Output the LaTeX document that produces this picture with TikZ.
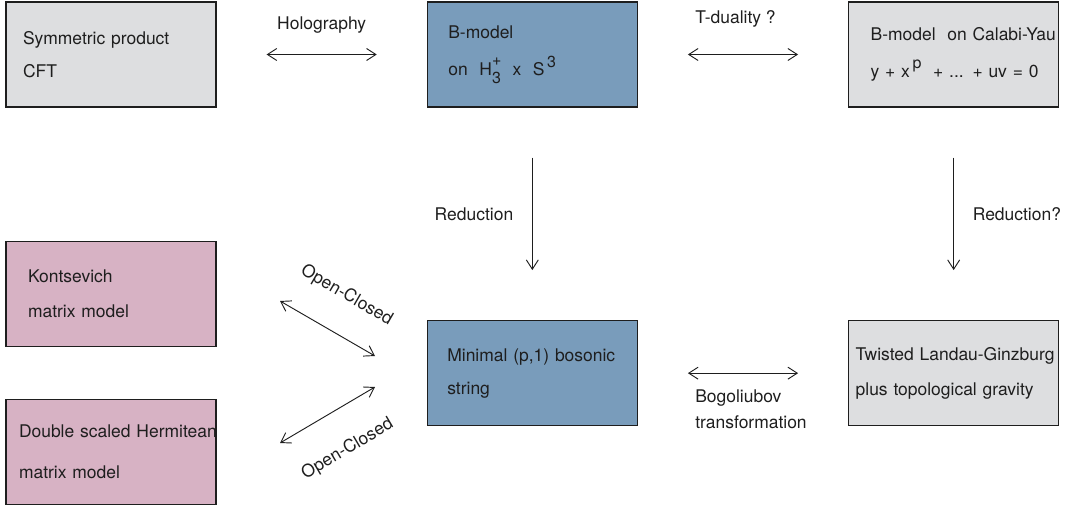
\documentclass[tikz,border=0pt]{standalone}
\usepackage{fontspec}
\setmainfont{TeX Gyre Heros}
\usetikzlibrary{positioning,arrows.meta}
\definecolor{boxgray}{RGB}{221,222,224}
\definecolor{boxblue}{RGB}{121,156,187}
\definecolor{boxpink}{RGB}{215,178,196}
\definecolor{ink}{RGB}{30,30,30}
\newcommand{\lift}[2]{\raisebox{#1}{\fontsize{12}{12}\selectfont #2}}
\begin{document}
\begin{tikzpicture}[x=0.75pt, y=-0.75pt, node distance=316pt,
  >={Straight Barb[length=7pt,width=9pt]},
  every node/.style={text=ink, font=\fontsize{13.1}{16}\selectfont},
  box/.style={draw=ink, line width=0.9pt, minimum width=157.5pt, minimum height=78.75pt, align=left, inner xsep=#1, text width={157.5pt-2*#1}},
  arrow/.style={draw=ink, line width=0.7pt},
  link/.style={arrow, shorten <=37.5pt, shorten >=37.5pt},
  lbl/.style={inner sep=2pt}]
\useasboundingbox (0,0) rectangle (1068,506);
\node[box=12.75pt, fill=boxgray] (1) at (111,54.5) {Symmetric product\\[8.8pt]CFT};
\node[box=15.75pt, fill=boxblue] (2) [right of=1] {B-model\\[11.8pt]on\ \ H\rlap{\lift{7.5pt}{+}}\lift{-6pt}{3}\ \ x\ \ S\lift{6pt}{\,3}};
\node[box=16.5pt, fill=boxgray] (3) [right of=2] {\mbox{B-model\ \ on Calabi-Yau}\\[11.8pt]\mbox{y + x\lift{7pt}{\,p}\ \ + ... + uv = 0}};
\node[box=15pt, fill=boxblue] (6) [node distance=239pt, below of=2] {Minimal (p,1) bosonic\\[8.8pt]string};
\node[box=5.25pt, fill=boxgray] (7) [right of=6] {\mbox{Twisted Landau-Ginzburg}\\[10.3pt]plus topological gravity};
\node[box=16.5pt, fill=boxpink] (4) [left of=6, yshift=59.25pt] {Kontsevich\\[10.3pt]matrix model};
\node[box=9.75pt, fill=boxpink] (5) [left of=6, yshift=-59.25pt] {\mbox{Double scaled Hermitean}\\[14.8pt]matrix model};
\coordinate (c1) at (280,301);
\coordinate (c2) at (375,356);
\coordinate (c3) at (280,443);
\coordinate (c4) at (375,387);
\draw[link, <->] (1) -- node[lbl, yshift=22pt] {Holography} (2);
\draw[link, <->] (2) -- node[lbl, xshift=-5.6pt, yshift=26.6pt] {T-duality ?} (3);
\draw[link, ->] (2) -- node[lbl, left=12pt] {Reduction} (6);
\draw[link, ->] (3) -- node[lbl, right=12pt] {Reduction?} (7);
\draw[link, <->] (6) -- node[lbl, align=left, below=10pt, xshift=6pt, font=\fontsize{13.1}{19.5}\selectfont] {Bogoliubov\\transformation} (7);
\draw[arrow, <->] (c1) -- node[lbl, sloped, above=20pt] {Open-Closed} (c2);
\draw[arrow, <->] (c3) -- node[lbl, sloped, below=21pt] {Open-Closed} (c4);
\end{tikzpicture}
\end{document}
